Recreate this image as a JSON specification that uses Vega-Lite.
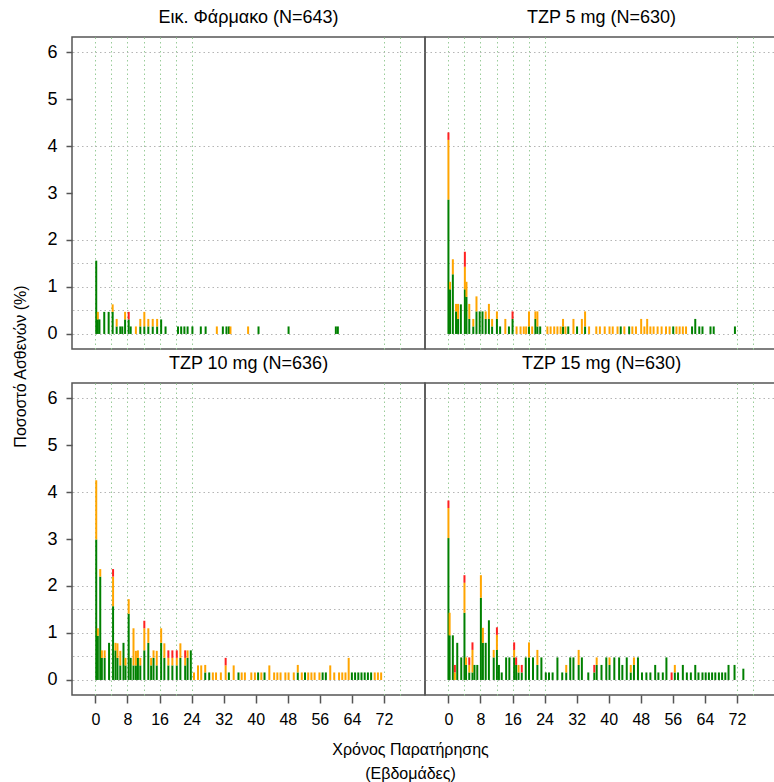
{
"$schema": "https://vega.github.io/schema/vega-lite/v6.json",
"padding": {"left": 12, "top": 8, "right": 0, "bottom": 0},
"background": "white",
"config": {
  "font": "Liberation Sans",
  "view": {"stroke": "#555555", "strokeWidth": 1.5},
  "title": {"fontSize": 18, "fontWeight": "normal", "color": "#000000", "offset": 10}
},
"datasets": {"ae": [
{"arm":"Placebo","week":0.2,"sev":"Ήπια","pct":1.56},
{"arm":"Placebo","week":0.6,"sev":"Ήπια","pct":0.31},{"arm":"Placebo","week":0.6,"sev":"Μέτρια","pct":0.16},
{"arm":"Placebo","week":1.0,"sev":"Ήπια","pct":0.31},
{"arm":"Placebo","week":2.2,"sev":"Ήπια","pct":0.47},
{"arm":"Placebo","week":3.3,"sev":"Ήπια","pct":0.47},
{"arm":"Placebo","week":4.3,"sev":"Ήπια","pct":0.47},{"arm":"Placebo","week":4.3,"sev":"Μέτρια","pct":0.16},
{"arm":"Placebo","week":5.3,"sev":"Ήπια","pct":0.16},{"arm":"Placebo","week":5.3,"sev":"Μέτρια","pct":0.16},
{"arm":"Placebo","week":6.2,"sev":"Ήπια","pct":0.16},
{"arm":"Placebo","week":6.7,"sev":"Ήπια","pct":0.16},
{"arm":"Placebo","week":7.4,"sev":"Ήπια","pct":0.31},{"arm":"Placebo","week":7.4,"sev":"Μέτρια","pct":0.16},
{"arm":"Placebo","week":8.3,"sev":"Ήπια","pct":0.31},{"arm":"Placebo","week":8.3,"sev":"Σοβαρή","pct":0.16},
{"arm":"Placebo","week":8.8,"sev":"Ήπια","pct":0.16},
{"arm":"Placebo","week":10.1,"sev":"Μέτρια","pct":0.16},
{"arm":"Placebo","week":11.2,"sev":"Ήπια","pct":0.16},{"arm":"Placebo","week":11.2,"sev":"Μέτρια","pct":0.16},
{"arm":"Placebo","week":12.2,"sev":"Ήπια","pct":0.16},{"arm":"Placebo","week":12.2,"sev":"Μέτρια","pct":0.31},
{"arm":"Placebo","week":13.2,"sev":"Ήπια","pct":0.16},{"arm":"Placebo","week":13.2,"sev":"Μέτρια","pct":0.16},
{"arm":"Placebo","week":14.3,"sev":"Ήπια","pct":0.16},{"arm":"Placebo","week":14.3,"sev":"Μέτρια","pct":0.16},
{"arm":"Placebo","week":15.4,"sev":"Ήπια","pct":0.16},{"arm":"Placebo","week":15.4,"sev":"Μέτρια","pct":0.16},
{"arm":"Placebo","week":16.4,"sev":"Ήπια","pct":0.31},
{"arm":"Placebo","week":17.5,"sev":"Ήπια","pct":0.16},
{"arm":"Placebo","week":20.6,"sev":"Ήπια","pct":0.16},{"arm":"Placebo","week":21.4,"sev":"Ήπια","pct":0.16},
{"arm":"Placebo","week":22.2,"sev":"Ήπια","pct":0.16},{"arm":"Placebo","week":23.0,"sev":"Ήπια","pct":0.16},
{"arm":"Placebo","week":24.2,"sev":"Ήπια","pct":0.16},{"arm":"Placebo","week":26.3,"sev":"Ήπια","pct":0.16},
{"arm":"Placebo","week":27.5,"sev":"Ήπια","pct":0.16},{"arm":"Placebo","week":30.3,"sev":"Μέτρια","pct":0.16},
{"arm":"Placebo","week":31.8,"sev":"Ήπια","pct":0.16},{"arm":"Placebo","week":32.7,"sev":"Ήπια","pct":0.16},
{"arm":"Placebo","week":33.3,"sev":"Ήπια","pct":0.16},{"arm":"Placebo","week":33.7,"sev":"Μέτρια","pct":0.16},
{"arm":"Placebo","week":38.1,"sev":"Μέτρια","pct":0.16},{"arm":"Placebo","week":40.7,"sev":"Ήπια","pct":0.16},
{"arm":"Placebo","week":48.2,"sev":"Ήπια","pct":0.16},{"arm":"Placebo","week":60.0,"sev":"Ήπια","pct":0.16},
{"arm":"Placebo","week":60.5,"sev":"Ήπια","pct":0.16},

{"arm":"TZP5","week":0.0,"sev":"Ήπια","pct":2.86},{"arm":"TZP5","week":0.0,"sev":"Μέτρια","pct":1.27},{"arm":"TZP5","week":0.0,"sev":"Σοβαρή","pct":0.16},
{"arm":"TZP5","week":0.4,"sev":"Ήπια","pct":0.95},{"arm":"TZP5","week":0.4,"sev":"Μέτρια","pct":0.16},
{"arm":"TZP5","week":1.1,"sev":"Ήπια","pct":1.27},{"arm":"TZP5","week":1.1,"sev":"Μέτρια","pct":0.32},
{"arm":"TZP5","week":1.9,"sev":"Ήπια","pct":0.48},{"arm":"TZP5","week":1.9,"sev":"Μέτρια","pct":0.16},
{"arm":"TZP5","week":2.4,"sev":"Ήπια","pct":0.32},{"arm":"TZP5","week":2.4,"sev":"Μέτρια","pct":0.32},
{"arm":"TZP5","week":3.1,"sev":"Ήπια","pct":0.63},
{"arm":"TZP5","week":4.1,"sev":"Ήπια","pct":0.95},{"arm":"TZP5","week":4.1,"sev":"Μέτρια","pct":0.48},{"arm":"TZP5","week":4.1,"sev":"Σοβαρή","pct":0.32},
{"arm":"TZP5","week":4.5,"sev":"Ήπια","pct":0.79},{"arm":"TZP5","week":4.5,"sev":"Μέτρια","pct":0.32},
{"arm":"TZP5","week":5.2,"sev":"Ήπια","pct":0.32},{"arm":"TZP5","week":5.2,"sev":"Μέτρια","pct":0.32},
{"arm":"TZP5","week":6.2,"sev":"Ήπια","pct":0.16},{"arm":"TZP5","week":6.2,"sev":"Μέτρια","pct":0.16},
{"arm":"TZP5","week":7.0,"sev":"Ήπια","pct":0.48},{"arm":"TZP5","week":7.0,"sev":"Μέτρια","pct":0.32},
{"arm":"TZP5","week":7.8,"sev":"Ήπια","pct":0.48},
{"arm":"TZP5","week":8.5,"sev":"Ήπια","pct":0.48},
{"arm":"TZP5","week":9.3,"sev":"Ήπια","pct":0.32},{"arm":"TZP5","week":9.3,"sev":"Μέτρια","pct":0.16},
{"arm":"TZP5","week":10.1,"sev":"Ήπια","pct":0.32},{"arm":"TZP5","week":10.1,"sev":"Μέτρια","pct":0.32},
{"arm":"TZP5","week":10.9,"sev":"Ήπια","pct":0.16},{"arm":"TZP5","week":10.9,"sev":"Μέτρια","pct":0.16},
{"arm":"TZP5","week":12.1,"sev":"Ήπια","pct":0.32},{"arm":"TZP5","week":12.1,"sev":"Μέτρια","pct":0.16},
{"arm":"TZP5","week":12.9,"sev":"Ήπια","pct":0.16},
{"arm":"TZP5","week":14.2,"sev":"Μέτρια","pct":0.32},
{"arm":"TZP5","week":15.1,"sev":"Ήπια","pct":0.16},
{"arm":"TZP5","week":16.0,"sev":"Ήπια","pct":0.32},{"arm":"TZP5","week":16.0,"sev":"Σοβαρή","pct":0.16},
{"arm":"TZP5","week":17.0,"sev":"Μέτρια","pct":0.16},{"arm":"TZP5","week":18.0,"sev":"Μέτρια","pct":0.16},
{"arm":"TZP5","week":18.8,"sev":"Μέτρια","pct":0.16},{"arm":"TZP5","week":19.4,"sev":"Μέτρια","pct":0.16},
{"arm":"TZP5","week":20.1,"sev":"Ήπια","pct":0.16},{"arm":"TZP5","week":20.1,"sev":"Μέτρια","pct":0.32},
{"arm":"TZP5","week":20.9,"sev":"Μέτρια","pct":0.16},
{"arm":"TZP5","week":21.7,"sev":"Ήπια","pct":0.32},{"arm":"TZP5","week":21.7,"sev":"Μέτρια","pct":0.16},
{"arm":"TZP5","week":22.2,"sev":"Ήπια","pct":0.16},{"arm":"TZP5","week":22.2,"sev":"Μέτρια","pct":0.32},
{"arm":"TZP5","week":22.9,"sev":"Ήπια","pct":0.16},
{"arm":"TZP5","week":24.7,"sev":"Μέτρια","pct":0.16},{"arm":"TZP5","week":25.5,"sev":"Μέτρια","pct":0.16},
{"arm":"TZP5","week":26.4,"sev":"Μέτρια","pct":0.16},{"arm":"TZP5","week":27.2,"sev":"Μέτρια","pct":0.16},
{"arm":"TZP5","week":28.0,"sev":"Μέτρια","pct":0.16},
{"arm":"TZP5","week":28.6,"sev":"Ήπια","pct":0.16},{"arm":"TZP5","week":28.6,"sev":"Μέτρια","pct":0.16},
{"arm":"TZP5","week":29.2,"sev":"Μέτρια","pct":0.16},{"arm":"TZP5","week":29.9,"sev":"Ήπια","pct":0.16},
{"arm":"TZP5","week":31.2,"sev":"Μέτρια","pct":0.32},{"arm":"TZP5","week":32.1,"sev":"Ήπια","pct":0.16},
{"arm":"TZP5","week":33.3,"sev":"Μέτρια","pct":0.32},
{"arm":"TZP5","week":34.1,"sev":"Ήπια","pct":0.16},{"arm":"TZP5","week":34.1,"sev":"Μέτρια","pct":0.32},
{"arm":"TZP5","week":35.1,"sev":"Μέτρια","pct":0.16},{"arm":"TZP5","week":36.9,"sev":"Μέτρια","pct":0.16},
{"arm":"TZP5","week":37.8,"sev":"Μέτρια","pct":0.16},{"arm":"TZP5","week":39.0,"sev":"Μέτρια","pct":0.16},
{"arm":"TZP5","week":40.2,"sev":"Μέτρια","pct":0.16},{"arm":"TZP5","week":41.0,"sev":"Μέτρια","pct":0.16},
{"arm":"TZP5","week":42.2,"sev":"Μέτρια","pct":0.16},{"arm":"TZP5","week":43.0,"sev":"Ήπια","pct":0.16},
{"arm":"TZP5","week":43.9,"sev":"Μέτρια","pct":0.16},{"arm":"TZP5","week":45.1,"sev":"Ήπια","pct":0.16},
{"arm":"TZP5","week":45.9,"sev":"Μέτρια","pct":0.16},{"arm":"TZP5","week":46.8,"sev":"Μέτρια","pct":0.16},
{"arm":"TZP5","week":48.1,"sev":"Μέτρια","pct":0.32},{"arm":"TZP5","week":48.9,"sev":"Μέτρια","pct":0.16},
{"arm":"TZP5","week":49.6,"sev":"Μέτρια","pct":0.32},{"arm":"TZP5","week":50.4,"sev":"Μέτρια","pct":0.16},
{"arm":"TZP5","week":51.2,"sev":"Μέτρια","pct":0.16},{"arm":"TZP5","week":52.2,"sev":"Μέτρια","pct":0.16},
{"arm":"TZP5","week":53.2,"sev":"Μέτρια","pct":0.16},{"arm":"TZP5","week":54.3,"sev":"Μέτρια","pct":0.16},
{"arm":"TZP5","week":55.2,"sev":"Μέτρια","pct":0.16},{"arm":"TZP5","week":56.1,"sev":"Ήπια","pct":0.16},
{"arm":"TZP5","week":56.9,"sev":"Μέτρια","pct":0.16},{"arm":"TZP5","week":57.7,"sev":"Μέτρια","pct":0.16},
{"arm":"TZP5","week":58.5,"sev":"Μέτρια","pct":0.16},{"arm":"TZP5","week":59.3,"sev":"Μέτρια","pct":0.16},
{"arm":"TZP5","week":60.8,"sev":"Ήπια","pct":0.16},{"arm":"TZP5","week":61.6,"sev":"Ήπια","pct":0.32},
{"arm":"TZP5","week":62.6,"sev":"Ήπια","pct":0.16},{"arm":"TZP5","week":63.4,"sev":"Ήπια","pct":0.16},
{"arm":"TZP5","week":65.4,"sev":"Ήπια","pct":0.16},{"arm":"TZP5","week":66.2,"sev":"Ήπια","pct":0.16},
{"arm":"TZP5","week":71.5,"sev":"Ήπια","pct":0.16},

{"arm":"TZP10","week":0.2,"sev":"Ήπια","pct":2.99},{"arm":"TZP10","week":0.2,"sev":"Μέτρια","pct":1.26},
{"arm":"TZP10","week":0.6,"sev":"Ήπια","pct":0.94},{"arm":"TZP10","week":0.6,"sev":"Μέτρια","pct":0.16},
{"arm":"TZP10","week":1.2,"sev":"Ήπια","pct":2.2},{"arm":"TZP10","week":1.2,"sev":"Μέτρια","pct":0.16},
{"arm":"TZP10","week":1.6,"sev":"Ήπια","pct":0.47},{"arm":"TZP10","week":1.6,"sev":"Μέτρια","pct":0.16},
{"arm":"TZP10","week":2.3,"sev":"Ήπια","pct":0.47},{"arm":"TZP10","week":2.3,"sev":"Μέτρια","pct":0.16},
{"arm":"TZP10","week":3.4,"sev":"Ήπια","pct":0.79},
{"arm":"TZP10","week":4.4,"sev":"Ήπια","pct":1.57},{"arm":"TZP10","week":4.4,"sev":"Μέτρια","pct":0.63},{"arm":"TZP10","week":4.4,"sev":"Σοβαρή","pct":0.16},
{"arm":"TZP10","week":5.0,"sev":"Ήπια","pct":0.63},{"arm":"TZP10","week":5.0,"sev":"Μέτρια","pct":0.16},
{"arm":"TZP10","week":5.5,"sev":"Ήπια","pct":0.47},{"arm":"TZP10","week":5.5,"sev":"Μέτρια","pct":0.31},
{"arm":"TZP10","week":6.2,"sev":"Ήπια","pct":0.31},{"arm":"TZP10","week":6.2,"sev":"Μέτρια","pct":0.31},
{"arm":"TZP10","week":7.0,"sev":"Ήπια","pct":0.79},
{"arm":"TZP10","week":7.5,"sev":"Ήπια","pct":0.31},{"arm":"TZP10","week":7.5,"sev":"Μέτρια","pct":0.16},
{"arm":"TZP10","week":8.3,"sev":"Ήπια","pct":1.41},{"arm":"TZP10","week":8.3,"sev":"Μέτρια","pct":0.31},
{"arm":"TZP10","week":8.8,"sev":"Ήπια","pct":0.47},
{"arm":"TZP10","week":9.5,"sev":"Ήπια","pct":0.31},{"arm":"TZP10","week":9.5,"sev":"Μέτρια","pct":0.79},
{"arm":"TZP10","week":10.1,"sev":"Ήπια","pct":0.31},{"arm":"TZP10","week":10.1,"sev":"Μέτρια","pct":0.31},
{"arm":"TZP10","week":10.6,"sev":"Ήπια","pct":0.47},{"arm":"TZP10","week":10.6,"sev":"Μέτρια","pct":0.16},
{"arm":"TZP10","week":11.2,"sev":"Ήπια","pct":0.31},{"arm":"TZP10","week":11.2,"sev":"Μέτρια","pct":0.16},
{"arm":"TZP10","week":12.2,"sev":"Ήπια","pct":0.63},{"arm":"TZP10","week":12.2,"sev":"Μέτρια","pct":0.47},{"arm":"TZP10","week":12.2,"sev":"Σοβαρή","pct":0.16},
{"arm":"TZP10","week":13.2,"sev":"Ήπια","pct":0.79},{"arm":"TZP10","week":13.2,"sev":"Μέτρια","pct":0.31},
{"arm":"TZP10","week":13.9,"sev":"Ήπια","pct":0.31},{"arm":"TZP10","week":13.9,"sev":"Μέτρια","pct":0.16},
{"arm":"TZP10","week":14.5,"sev":"Ήπια","pct":0.47},{"arm":"TZP10","week":14.5,"sev":"Μέτρια","pct":0.16},
{"arm":"TZP10","week":15.3,"sev":"Ήπια","pct":0.31},{"arm":"TZP10","week":15.3,"sev":"Μέτρια","pct":0.31},
{"arm":"TZP10","week":16.4,"sev":"Ήπια","pct":0.79},{"arm":"TZP10","week":16.4,"sev":"Μέτρια","pct":0.31},
{"arm":"TZP10","week":17.2,"sev":"Ήπια","pct":0.47},{"arm":"TZP10","week":17.2,"sev":"Μέτρια","pct":0.31},
{"arm":"TZP10","week":18.2,"sev":"Ήπια","pct":0.31},{"arm":"TZP10","week":18.2,"sev":"Μέτρια","pct":0.16},{"arm":"TZP10","week":18.2,"sev":"Σοβαρή","pct":0.16},
{"arm":"TZP10","week":19.2,"sev":"Ήπια","pct":0.31},{"arm":"TZP10","week":19.2,"sev":"Μέτρια","pct":0.16},{"arm":"TZP10","week":19.2,"sev":"Σοβαρή","pct":0.16},
{"arm":"TZP10","week":20.3,"sev":"Ήπια","pct":0.31},{"arm":"TZP10","week":20.3,"sev":"Μέτρια","pct":0.16},{"arm":"TZP10","week":20.3,"sev":"Σοβαρή","pct":0.16},
{"arm":"TZP10","week":21.2,"sev":"Ήπια","pct":0.47},{"arm":"TZP10","week":21.2,"sev":"Μέτρια","pct":0.31},
{"arm":"TZP10","week":22.4,"sev":"Ήπια","pct":0.31},{"arm":"TZP10","week":22.4,"sev":"Μέτρια","pct":0.16},{"arm":"TZP10","week":22.4,"sev":"Σοβαρή","pct":0.16},
{"arm":"TZP10","week":23.0,"sev":"Ήπια","pct":0.47},{"arm":"TZP10","week":23.0,"sev":"Μέτρια","pct":0.16},
{"arm":"TZP10","week":23.8,"sev":"Ήπια","pct":0.63},
{"arm":"TZP10","week":24.6,"sev":"Μέτρια","pct":0.16},{"arm":"TZP10","week":25.6,"sev":"Μέτρια","pct":0.31},
{"arm":"TZP10","week":26.4,"sev":"Μέτρια","pct":0.31},
{"arm":"TZP10","week":27.4,"sev":"Ήπια","pct":0.16},{"arm":"TZP10","week":27.4,"sev":"Μέτρια","pct":0.16},
{"arm":"TZP10","week":28.4,"sev":"Ήπια","pct":0.16},{"arm":"TZP10","week":29.3,"sev":"Μέτρια","pct":0.16},
{"arm":"TZP10","week":30.1,"sev":"Μέτρια","pct":0.16},{"arm":"TZP10","week":31.3,"sev":"Μέτρια","pct":0.16},
{"arm":"TZP10","week":32.5,"sev":"Μέτρια","pct":0.31},{"arm":"TZP10","week":32.5,"sev":"Σοβαρή","pct":0.16},
{"arm":"TZP10","week":33.3,"sev":"Ήπια","pct":0.16},{"arm":"TZP10","week":34.5,"sev":"Μέτρια","pct":0.31},
{"arm":"TZP10","week":35.7,"sev":"Ήπια","pct":0.16},{"arm":"TZP10","week":36.5,"sev":"Μέτρια","pct":0.16},
{"arm":"TZP10","week":37.3,"sev":"Μέτρια","pct":0.16},{"arm":"TZP10","week":38.9,"sev":"Μέτρια","pct":0.16},
{"arm":"TZP10","week":39.8,"sev":"Μέτρια","pct":0.16},{"arm":"TZP10","week":40.6,"sev":"Ήπια","pct":0.16},
{"arm":"TZP10","week":41.4,"sev":"Μέτρια","pct":0.16},{"arm":"TZP10","week":42.2,"sev":"Ήπια","pct":0.16},
{"arm":"TZP10","week":43.4,"sev":"Μέτρια","pct":0.31},{"arm":"TZP10","week":44.6,"sev":"Μέτρια","pct":0.16},
{"arm":"TZP10","week":45.4,"sev":"Μέτρια","pct":0.16},{"arm":"TZP10","week":46.2,"sev":"Μέτρια","pct":0.16},
{"arm":"TZP10","week":47.4,"sev":"Μέτρια","pct":0.16},{"arm":"TZP10","week":48.2,"sev":"Μέτρια","pct":0.16},
{"arm":"TZP10","week":49.5,"sev":"Μέτρια","pct":0.16},
{"arm":"TZP10","week":50.5,"sev":"Ήπια","pct":0.16},{"arm":"TZP10","week":50.5,"sev":"Μέτρια","pct":0.16},
{"arm":"TZP10","week":51.5,"sev":"Μέτρια","pct":0.16},{"arm":"TZP10","week":52.3,"sev":"Ήπια","pct":0.16},
{"arm":"TZP10","week":53.1,"sev":"Μέτρια","pct":0.16},{"arm":"TZP10","week":53.9,"sev":"Μέτρια","pct":0.16},
{"arm":"TZP10","week":54.7,"sev":"Μέτρια","pct":0.16},{"arm":"TZP10","week":55.9,"sev":"Μέτρια","pct":0.16},
{"arm":"TZP10","week":56.7,"sev":"Ήπια","pct":0.16},{"arm":"TZP10","week":57.5,"sev":"Ήπια","pct":0.16},
{"arm":"TZP10","week":58.6,"sev":"Μέτρια","pct":0.31},{"arm":"TZP10","week":59.6,"sev":"Μέτρια","pct":0.16},
{"arm":"TZP10","week":60.8,"sev":"Μέτρια","pct":0.16},{"arm":"TZP10","week":61.6,"sev":"Μέτρια","pct":0.16},
{"arm":"TZP10","week":62.4,"sev":"Μέτρια","pct":0.16},{"arm":"TZP10","week":63.2,"sev":"Μέτρια","pct":0.47},
{"arm":"TZP10","week":64.0,"sev":"Ήπια","pct":0.16},{"arm":"TZP10","week":64.8,"sev":"Ήπια","pct":0.16},
{"arm":"TZP10","week":65.6,"sev":"Ήπια","pct":0.16},{"arm":"TZP10","week":66.4,"sev":"Ήπια","pct":0.16},
{"arm":"TZP10","week":67.2,"sev":"Ήπια","pct":0.16},{"arm":"TZP10","week":68.0,"sev":"Ήπια","pct":0.16},
{"arm":"TZP10","week":68.8,"sev":"Ήπια","pct":0.16},{"arm":"TZP10","week":69.7,"sev":"Μέτρια","pct":0.16},
{"arm":"TZP10","week":70.5,"sev":"Μέτρια","pct":0.16},{"arm":"TZP10","week":71.3,"sev":"Μέτρια","pct":0.16},

{"arm":"TZP15","week":0.0,"sev":"Ήπια","pct":3.02},{"arm":"TZP15","week":0.0,"sev":"Μέτρια","pct":0.64},{"arm":"TZP15","week":0.0,"sev":"Σοβαρή","pct":0.16},
{"arm":"TZP15","week":0.3,"sev":"Ήπια","pct":0.95},{"arm":"TZP15","week":0.3,"sev":"Μέτρια","pct":0.48},
{"arm":"TZP15","week":1.1,"sev":"Ήπια","pct":0.95},
{"arm":"TZP15","week":1.6,"sev":"Μέτρια","pct":0.16},{"arm":"TZP15","week":1.6,"sev":"Σοβαρή","pct":0.16},
{"arm":"TZP15","week":2.2,"sev":"Ήπια","pct":0.79},
{"arm":"TZP15","week":3.2,"sev":"Ήπια","pct":0.48},
{"arm":"TZP15","week":4.0,"sev":"Ήπια","pct":1.43},{"arm":"TZP15","week":4.0,"sev":"Μέτρια","pct":0.64},{"arm":"TZP15","week":4.0,"sev":"Σοβαρή","pct":0.16},
{"arm":"TZP15","week":4.4,"sev":"Ήπια","pct":0.32},{"arm":"TZP15","week":4.4,"sev":"Μέτρια","pct":0.16},
{"arm":"TZP15","week":5.2,"sev":"Ήπια","pct":0.16},{"arm":"TZP15","week":5.2,"sev":"Μέτρια","pct":0.16},{"arm":"TZP15","week":5.2,"sev":"Σοβαρή","pct":0.16},
{"arm":"TZP15","week":6.0,"sev":"Ήπια","pct":0.16},{"arm":"TZP15","week":6.0,"sev":"Μέτρια","pct":0.48},{"arm":"TZP15","week":6.0,"sev":"Σοβαρή","pct":0.16},
{"arm":"TZP15","week":6.5,"sev":"Ήπια","pct":0.32},
{"arm":"TZP15","week":7.2,"sev":"Ήπια","pct":0.32},
{"arm":"TZP15","week":8.1,"sev":"Ήπια","pct":1.75},{"arm":"TZP15","week":8.1,"sev":"Μέτρια","pct":0.48},
{"arm":"TZP15","week":8.6,"sev":"Ήπια","pct":0.79},{"arm":"TZP15","week":8.6,"sev":"Μέτρια","pct":0.32},
{"arm":"TZP15","week":9.3,"sev":"Ήπια","pct":0.79},
{"arm":"TZP15","week":10.1,"sev":"Ήπια","pct":1.27},
{"arm":"TZP15","week":11.3,"sev":"Ήπια","pct":0.48},{"arm":"TZP15","week":11.3,"sev":"Μέτρια","pct":0.16},
{"arm":"TZP15","week":12.1,"sev":"Ήπια","pct":0.64},{"arm":"TZP15","week":12.1,"sev":"Μέτρια","pct":0.32},{"arm":"TZP15","week":12.1,"sev":"Σοβαρή","pct":0.16},
{"arm":"TZP15","week":12.6,"sev":"Ήπια","pct":0.32},
{"arm":"TZP15","week":13.3,"sev":"Ήπια","pct":0.16},
{"arm":"TZP15","week":14.4,"sev":"Ήπια","pct":0.48},
{"arm":"TZP15","week":15.2,"sev":"Ήπια","pct":0.48},
{"arm":"TZP15","week":16.4,"sev":"Ήπια","pct":0.48},{"arm":"TZP15","week":16.4,"sev":"Μέτρια","pct":0.16},{"arm":"TZP15","week":16.4,"sev":"Σοβαρή","pct":0.16},
{"arm":"TZP15","week":16.9,"sev":"Ήπια","pct":0.32},{"arm":"TZP15","week":16.9,"sev":"Σοβαρή","pct":0.16},
{"arm":"TZP15","week":17.5,"sev":"Ήπια","pct":0.16},{"arm":"TZP15","week":17.5,"sev":"Μέτρια","pct":0.16},
{"arm":"TZP15","week":18.3,"sev":"Ήπια","pct":0.16},{"arm":"TZP15","week":18.3,"sev":"Σοβαρή","pct":0.16},
{"arm":"TZP15","week":19.3,"sev":"Ήπια","pct":0.48},
{"arm":"TZP15","week":20.1,"sev":"Ήπια","pct":0.48},{"arm":"TZP15","week":20.1,"sev":"Μέτρια","pct":0.32},
{"arm":"TZP15","week":21.1,"sev":"Ήπια","pct":0.48},
{"arm":"TZP15","week":22.2,"sev":"Ήπια","pct":0.32},{"arm":"TZP15","week":22.2,"sev":"Μέτρια","pct":0.32},
{"arm":"TZP15","week":23.2,"sev":"Ήπια","pct":0.48},
{"arm":"TZP15","week":24.3,"sev":"Ήπια","pct":0.16},{"arm":"TZP15","week":25.1,"sev":"Ήπια","pct":0.16},
{"arm":"TZP15","week":26.0,"sev":"Ήπια","pct":0.16},{"arm":"TZP15","week":27.2,"sev":"Ήπια","pct":0.48},
{"arm":"TZP15","week":28.4,"sev":"Ήπια","pct":0.16},
{"arm":"TZP15","week":29.4,"sev":"Ήπια","pct":0.16},{"arm":"TZP15","week":29.4,"sev":"Μέτρια","pct":0.16},
{"arm":"TZP15","week":30.4,"sev":"Ήπια","pct":0.48},{"arm":"TZP15","week":31.2,"sev":"Ήπια","pct":0.48},
{"arm":"TZP15","week":32.5,"sev":"Ήπια","pct":0.32},{"arm":"TZP15","week":32.5,"sev":"Μέτρια","pct":0.32},
{"arm":"TZP15","week":33.3,"sev":"Ήπια","pct":0.48},{"arm":"TZP15","week":34.9,"sev":"Ήπια","pct":0.16},
{"arm":"TZP15","week":36.4,"sev":"Ήπια","pct":0.16},{"arm":"TZP15","week":36.4,"sev":"Σοβαρή","pct":0.16},
{"arm":"TZP15","week":37.0,"sev":"Ήπια","pct":0.32},{"arm":"TZP15","week":37.0,"sev":"Μέτρια","pct":0.16},
{"arm":"TZP15","week":38.2,"sev":"Ήπια","pct":0.32},{"arm":"TZP15","week":39.4,"sev":"Ήπια","pct":0.48},
{"arm":"TZP15","week":40.2,"sev":"Ήπια","pct":0.32},{"arm":"TZP15","week":40.2,"sev":"Μέτρια","pct":0.16},
{"arm":"TZP15","week":41.4,"sev":"Ήπια","pct":0.48},{"arm":"TZP15","week":42.6,"sev":"Ήπια","pct":0.48},
{"arm":"TZP15","week":43.4,"sev":"Ήπια","pct":0.32},{"arm":"TZP15","week":44.5,"sev":"Ήπια","pct":0.48},
{"arm":"TZP15","week":45.5,"sev":"Ήπια","pct":0.16},{"arm":"TZP15","week":45.5,"sev":"Μέτρια","pct":0.16},
{"arm":"TZP15","week":46.3,"sev":"Ήπια","pct":0.32},{"arm":"TZP15","week":46.3,"sev":"Μέτρια","pct":0.16},
{"arm":"TZP15","week":47.3,"sev":"Ήπια","pct":0.48},{"arm":"TZP15","week":48.3,"sev":"Ήπια","pct":0.16},
{"arm":"TZP15","week":49.4,"sev":"Ήπια","pct":0.16},{"arm":"TZP15","week":50.4,"sev":"Ήπια","pct":0.16},
{"arm":"TZP15","week":51.6,"sev":"Ήπια","pct":0.32},{"arm":"TZP15","week":52.4,"sev":"Ήπια","pct":0.16},
{"arm":"TZP15","week":53.5,"sev":"Ήπια","pct":0.16},{"arm":"TZP15","week":54.4,"sev":"Ήπια","pct":0.48},
{"arm":"TZP15","week":55.7,"sev":"Σοβαρή","pct":0.16},
{"arm":"TZP15","week":56.5,"sev":"Ήπια","pct":0.16},{"arm":"TZP15","week":56.5,"sev":"Μέτρια","pct":0.16},
{"arm":"TZP15","week":57.3,"sev":"Ήπια","pct":0.16},{"arm":"TZP15","week":58.5,"sev":"Ήπια","pct":0.32},
{"arm":"TZP15","week":59.5,"sev":"Ήπια","pct":0.16},{"arm":"TZP15","week":60.5,"sev":"Ήπια","pct":0.16},
{"arm":"TZP15","week":61.6,"sev":"Ήπια","pct":0.32},{"arm":"TZP15","week":62.4,"sev":"Ήπια","pct":0.16},
{"arm":"TZP15","week":63.4,"sev":"Ήπια","pct":0.16},{"arm":"TZP15","week":64.2,"sev":"Ήπια","pct":0.16},
{"arm":"TZP15","week":65.0,"sev":"Ήπια","pct":0.16},{"arm":"TZP15","week":65.8,"sev":"Ήπια","pct":0.16},
{"arm":"TZP15","week":66.6,"sev":"Ήπια","pct":0.16},{"arm":"TZP15","week":67.5,"sev":"Ήπια","pct":0.16},
{"arm":"TZP15","week":68.3,"sev":"Ήπια","pct":0.16},{"arm":"TZP15","week":69.1,"sev":"Ήπια","pct":0.16},
{"arm":"TZP15","week":69.9,"sev":"Ήπια","pct":0.32},{"arm":"TZP15","week":71.4,"sev":"Ήπια","pct":0.32},
{"arm":"TZP15","week":73.6,"sev":"Ήπια","pct":0.24}
]},
"bounds": "flush",
"columns": 2,
"spacing": {"row": 34, "column": 0},
"concat": [
  {"width": 353, "height": 312, "title": "Εικ. Φάρμακο (N=643)", "data": {"name": "ae"},
   "transform": [{"filter": "datum.arm === 'Placebo'"}],
   "resolve": {"axis": {"x": "independent", "y": "independent"}},
   "layer": [
    {"mark": {"type": "point", "opacity": 0},
     "encoding": {
      "x": {"field": "week", "type": "quantitative", "scale": {"domain": [-4.6, 81], "nice": false, "zero": false},
            "axis": {"orient": "top", "values": [0,4,8,12,16,20,24,72,76], "grid": true, "gridColor": "#99cc99", "gridDash": [1.5,3], "gridWidth": 1, "labels": false, "ticks": false, "domain": false, "title": null}},
      "y": {"field": "pct", "type": "quantitative", "scale": {"domain": [-0.32, 6.32], "nice": false, "zero": false},
            "axis": {"orient": "right", "values": [0,0.5,1,1.5,2,4,6], "grid": true, "gridColor": "#b5b5b5", "gridDash": [1.5,3], "gridWidth": 1, "labels": false, "ticks": false, "domain": false, "title": null}}}},
    {"mark": {"type": "bar", "size": 2, "orient": "vertical"},
     "encoding": {
      "x": {"field": "week", "type": "quantitative", "scale": {"domain": [-4.6, 81], "nice": false, "zero": false}, "axis": null},
      "y": {"field": "pct", "type": "quantitative", "stack": "zero", "scale": {"domain": [-0.32, 6.32], "nice": false, "zero": false},
            "axis": {"values": [0,1,2,3,4,5,6], "grid": false, "domain": false, "tickColor": "#555555", "tickSize": 6, "tickWidth": 1.5, "labelFontSize": 18, "labelColor": "#000000", "labelPadding": 9,
                     "title": "Ποσοστό Ασθενών (%)", "titleFontSize": 16, "titleFontWeight": "normal", "titleColor": "#000000", "titleY": 329, "titlePadding": 18}},
      "color": {"field": "sev", "type": "nominal", "scale": {"domain": ["Ήπια","Μέτρια","Σοβαρή"], "range": ["#008000","#ffa500","#ff2020"]}, "legend": null},
      "order": {"field": "sev", "sort": "ascending"}}}
   ]},
  {"width": 353, "height": 312, "title": "TZP 5 mg (N=630)", "data": {"name": "ae"},
   "transform": [{"filter": "datum.arm === 'TZP5'"}],
   "resolve": {"axis": {"x": "independent", "y": "independent"}},
   "layer": [
    {"mark": {"type": "point", "opacity": 0},
     "encoding": {
      "x": {"field": "week", "type": "quantitative", "scale": {"domain": [-4.6, 81], "nice": false, "zero": false},
            "axis": {"orient": "top", "values": [0,4,8,12,16,20,24,72,76], "grid": true, "gridColor": "#99cc99", "gridDash": [1.5,3], "gridWidth": 1, "labels": false, "ticks": false, "domain": false, "title": null}},
      "y": {"field": "pct", "type": "quantitative", "scale": {"domain": [-0.32, 6.32], "nice": false, "zero": false},
            "axis": {"orient": "right", "values": [0,0.5,1,1.5,2,4,6], "grid": true, "gridColor": "#b5b5b5", "gridDash": [1.5,3], "gridWidth": 1, "labels": false, "ticks": false, "domain": false, "title": null}}}},
    {"mark": {"type": "bar", "size": 2, "orient": "vertical"},
     "encoding": {
      "x": {"field": "week", "type": "quantitative", "scale": {"domain": [-4.6, 81], "nice": false, "zero": false}, "axis": null},
      "y": {"field": "pct", "type": "quantitative", "stack": "zero", "scale": {"domain": [-0.32, 6.32], "nice": false, "zero": false}, "axis": null},
      "color": {"field": "sev", "type": "nominal", "scale": {"domain": ["Ήπια","Μέτρια","Σοβαρή"], "range": ["#008000","#ffa500","#ff2020"]}, "legend": null},
      "order": {"field": "sev", "sort": "ascending"}}}
   ]},
  {"width": 353, "height": 312, "title": "TZP 10 mg (N=636)", "data": {"name": "ae"},
   "transform": [{"filter": "datum.arm === 'TZP10'"}],
   "resolve": {"axis": {"x": "independent", "y": "independent"}},
   "layer": [
    {"mark": {"type": "point", "opacity": 0},
     "encoding": {
      "x": {"field": "week", "type": "quantitative", "scale": {"domain": [-4.6, 81], "nice": false, "zero": false},
            "axis": {"orient": "top", "values": [0,4,8,12,16,20,24,72,76], "grid": true, "gridColor": "#99cc99", "gridDash": [1.5,3], "gridWidth": 1, "labels": false, "ticks": false, "domain": false, "title": null}},
      "y": {"field": "pct", "type": "quantitative", "scale": {"domain": [-0.32, 6.32], "nice": false, "zero": false},
            "axis": {"orient": "right", "values": [0,0.5,1,1.5,2,4,6], "grid": true, "gridColor": "#b5b5b5", "gridDash": [1.5,3], "gridWidth": 1, "labels": false, "ticks": false, "domain": false, "title": null}}}},
    {"mark": {"type": "bar", "size": 2, "orient": "vertical"},
     "encoding": {
      "x": {"field": "week", "type": "quantitative", "scale": {"domain": [-4.6, 81], "nice": false, "zero": false},
            "axis": {"values": [0,8,16,24,32,40,48,56,64,72], "grid": false, "domain": false, "tickColor": "#555555", "tickSize": 8, "tickWidth": 1.5, "labelFontSize": 16, "labelColor": "#000000", "labelPadding": 8, "labelFlush": false, "labelOverlap": false,
                     "title": ["Χρόνος Παρατήρησης", "(Εβδομάδες)"], "titleFontSize": 16, "titleFontWeight": "normal", "titleColor": "#000000", "titleX": 338, "titlePadding": 14, "titleLineHeight": 24}},
      "y": {"field": "pct", "type": "quantitative", "stack": "zero", "scale": {"domain": [-0.32, 6.32], "nice": false, "zero": false},
            "axis": {"values": [0,1,2,3,4,5,6], "grid": false, "domain": false, "tickColor": "#555555", "tickSize": 6, "tickWidth": 1.5, "labelFontSize": 18, "labelColor": "#000000", "labelPadding": 9, "title": null}},
      "color": {"field": "sev", "type": "nominal", "scale": {"domain": ["Ήπια","Μέτρια","Σοβαρή"], "range": ["#008000","#ffa500","#ff2020"]}, "legend": null},
      "order": {"field": "sev", "sort": "ascending"}}}
   ]},
  {"width": 353, "height": 312, "title": "TZP 15 mg (N=630)", "data": {"name": "ae"},
   "transform": [{"filter": "datum.arm === 'TZP15'"}],
   "resolve": {"axis": {"x": "independent", "y": "independent"}},
   "layer": [
    {"mark": {"type": "point", "opacity": 0},
     "encoding": {
      "x": {"field": "week", "type": "quantitative", "scale": {"domain": [-4.6, 81], "nice": false, "zero": false},
            "axis": {"orient": "top", "values": [0,4,8,12,16,20,24,72,76], "grid": true, "gridColor": "#99cc99", "gridDash": [1.5,3], "gridWidth": 1, "labels": false, "ticks": false, "domain": false, "title": null}},
      "y": {"field": "pct", "type": "quantitative", "scale": {"domain": [-0.32, 6.32], "nice": false, "zero": false},
            "axis": {"orient": "right", "values": [0,0.5,1,1.5,2,4,6], "grid": true, "gridColor": "#b5b5b5", "gridDash": [1.5,3], "gridWidth": 1, "labels": false, "ticks": false, "domain": false, "title": null}}}},
    {"mark": {"type": "bar", "size": 2, "orient": "vertical"},
     "encoding": {
      "x": {"field": "week", "type": "quantitative", "scale": {"domain": [-4.6, 81], "nice": false, "zero": false},
            "axis": {"values": [0,8,16,24,32,40,48,56,64,72], "grid": false, "domain": false, "tickColor": "#555555", "tickSize": 8, "tickWidth": 1.5, "labelFontSize": 16, "labelColor": "#000000", "labelPadding": 8, "labelFlush": false, "labelOverlap": false, "title": null}},
      "y": {"field": "pct", "type": "quantitative", "stack": "zero", "scale": {"domain": [-0.32, 6.32], "nice": false, "zero": false}, "axis": null},
      "color": {"field": "sev", "type": "nominal", "scale": {"domain": ["Ήπια","Μέτρια","Σοβαρή"], "range": ["#008000","#ffa500","#ff2020"]}, "legend": null},
      "order": {"field": "sev", "sort": "ascending"}}}
   ]}
]
}
